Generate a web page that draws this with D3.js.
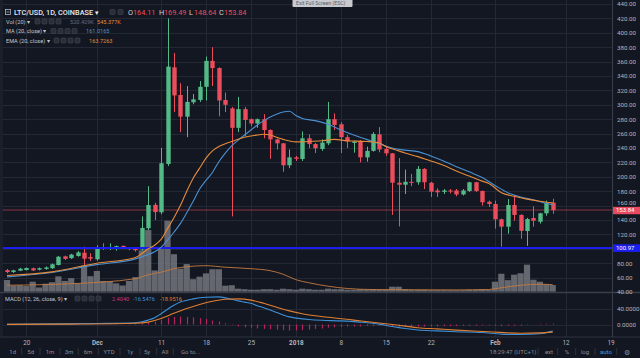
<!DOCTYPE html>
<html><head><meta charset="utf-8">
<script src="https://cdn.jsdelivr.net/npm/d3@7"></script>
<style>html,body{margin:0;padding:0;background:#131722;overflow:hidden}text{font-family:Roboto,"Liberation Sans",Arial,sans-serif}</style>
</head><body><svg id="c" width="640" height="358"></svg>
<script>
// ---- data (LTC/USD 1D Coinbase, 17 Nov 2017 .. 10 Feb 2018) ----
const startDate = new Date(2017, 10, 17);
const open = [70.4,67.7,69.6,70.5,73,71,72,73,77.5,89.5,
87,90,94.6,88.5,85.4,101.5,100.8,102,104,101,
100,99,128.5,161,150.7,217.8,352,313.6,283.5,303.5,
306.7,325,361,351,306.7,295,268,294,280,274,
280,265,252,246.5,216,227,224.7,253.5,245.5,238.6,
246.5,280,273,255,247,249.7,227,236,259,238.6,
232.6,191.8,189,193,192.4,211,191.8,181,179,181,
181,175.5,180.3,192.4,180.3,165.4,162.2,141,130.7,160.8,
147,124.7,142.8,137.6,149.3,164.11];
const high = [72,71,73.5,74,74,74,75.5,79.5,90,90.5,
93,97,103,94,105,107.6,107.6,104.5,104.5,102,
100.5,145,187,164,240,420,372,330,326,315,
333,367,380,352,317,297,311,297,281,281,
287,266,253,247,238,229,263,259,247,252,
304,288,276,258,250,251,242,262,269,242,
233,226,210,204,215,212,193,184,183,183,
183,183,193,193,181,167,167,142,169,174.7,
148,143,159,150,167,169.49];
const low = [66,66.5,69,70,69,70,71,72,77,84.5,
86,89,77.5,83,83.5,98.3,98.3,97.4,101,98,
96,97.5,126,140,148,215,290,262,255,300.7,
304,306,326,284,290,145,262,256,270,268,
253.5,225,238,207,212,222,222,239.6,233,236,
244,265,233,240,233.5,220,221,235,234,229,
147,131,176,187,189,183,172,172,176,177,
173,174,179,179,160,158,128,103,121,139,
114,104,130.7,135,146,148.64];
const close = [67.7,70,72.4,73.3,70,73,74,78.5,89,86,
92,95,86.3,86.3,102,100.5,101.5,103.7,102,99.5,
98,129,160.8,151,218.8,353,313,283.5,304,307.6,
325,361,351,306,300,268,294,279,274,280,
265,252,246.5,216,227,225,253.5,245.5,239.6,247.5,
280,272,255,249,249,227,236,259.5,238,232.6,
191.8,189,193,192,211,192.4,179.3,178.5,181,179.5,
175.5,181,192.4,180.3,164.6,162.2,141,130.7,160.8,147,
125,141.4,139,149.3,164,153.84];
const volumeK = [910,485,505,445,780,330,625,740,1195,840,
1055,650,2045,1210,1620,840,820,650,485,840,
1140,3220,4810,1660,3380,5540,2925,1795,2160,975,
1170,1430,1755,1755,470,505,235,195,155,155,
195,195,155,235,195,155,235,195,155,155,
235,195,195,155,155,195,155,195,155,155,
390,390,195,155,155,155,120,120,120,120,
120,120,155,155,195,155,780,1400,900,1330,
1440,2110,935,780,585,520.429];
const macdHist = [0.3,0.3,0.3,0.3,0.3,0.3,0.3,0.3,0.3,0.3,
0.8,0.8,0.8,0.8,0.8,0.8,0.8,0.8,0.8,0.8,
1.5,3,5,7,11,17,19,20,19,18,
16,14,10,7.5,3,-1,-5,-7,-8,-10,
-11,-12,-13,-14,-15,-15,-14,-13,-11,-10,
-8,-7,-6,-5,-5,-5,-4,-4,-3,-3,
-5,-6,-6,-6,-5,-5,-5,-5,-4,-4,
-4,-3,-3,-3,-2,-2,-3,-4,-3,-3,
-3,-1,0.5,1.5,2,2.404];
// line samples: [candle index, value]
const maLine = [[0,61],[7,67],[14,78],[20,86],[22,92],[23,96],[24,102],[25,112],[26,123],[27,135],[28,150],[29,166],[30,183],[31,195],[32,206],[33,221],[34,233],[35,243],[36,251],[37,258],[38,265],[39,272],[40,278],[41,283],[42,287],[43,290],[44,291],[45,285],[46,281],[48,278],[50,273],[52,265],[54,258],[56,252],[58,246],[60,240],[62,237],[64,235],[66,229],[68,222],[70,214],[72,207],[74,199],[76,188],[78,178],[80,172],[82,168],[84,163],[85,161.0165]];
const emaLine = [[0,63],[7,68],[14,80],[20,88],[22,100],[23,105],[24,113],[25,128],[26,143],[27,160],[28,180],[29,198],[30,212],[31,226],[32,236],[33,242],[34,246],[35,249],[37,255],[39,258],[40,259],[41,258],[42,255],[43,252],[45,248.5],[47,249],[49,250],[51,252],[53,250],[56,249],[58,247],[59,242],[61,236],[62,233],[64,228],[66,222],[68,216],[70,208],[72,201],[74,194],[75,191],[77,178],[79,173],[81,169],[83,166],[85,163.7263]];
const volMaLine = [[0,505],[10,625],[20,1015],[22,1325],[24,1520],[26,1795],[28,1950],[31,2030],[34,1910],[38,1795],[41,1640],[43,1365],[45,935],[47,700],[50,430],[53,250],[57,170],[70,140],[75,170],[77,310],[80,505],[83,585],[85,545.377]];
const macdLine = [[0,0.5],[8,1.5],[14,2.5],[20,4],[21,7],[22,11],[23,17],[24,27],[25,38],[26,48],[27,56],[29,64],[31,68],[33,69],[35,63],[36,59],[37,56],[38,53],[39,47],[40,42],[41,36],[42,30],[43,24],[44,19],[45,16],[46,14],[47,12.5],[49,10.5],[52,9],[55,6],[58,1],[60,-5],[62,-10],[64,-13.7],[67,-16],[70,-18],[74,-20],[77,-24],[80,-25],[83,-23],[85,-16.5476]];
const signalLine = [[0,0.3],[10,1],[20,3],[22,6],[24,15],[26,28],[28,40],[30,50],[32,58],[34,63],[36,64],[38,61],[40,53],[42,43],[44,34],[46,27],[48,22],[50,18],[54,11],[59,2],[62,-4],[64,-8],[67,-11],[70,-14],[75,-18],[80,-22],[83,-21],[85,-18.9516]];
const priceTicks = d3.range(40, 441, 20);
const hiddenPriceLabels = [100];   // covered by the 100.97 tag in the reference
const macdTicks = [40, 0];
const timeTickDates = [new Date(2017,10,20),new Date(2017,11,1),new Date(2017,11,11),new Date(2017,11,18),new Date(2017,11,25),new Date(2018,0,1),new Date(2018,0,8),new Date(2018,0,15),new Date(2018,0,22),new Date(2018,1,1),new Date(2018,1,12),new Date(2018,1,19)];
const timeTickLabels = ["20","Dec","11","18","25","2018","8","15","22","Feb","12","19"];
const boldTicks = ["Dec","2018","Feb"];
const lastPrice = 153.84, hLine = 100.97;

// ---- drawing ----
const svg = d3.select("#c");
const W = 640, H = 358, paneR = 612;
const BG = "#131722", GRID = "#242835", AX = "#b2b5be";
const UP = "#53b987", DN = "#eb4d5c", BLUE = "#4a90d0", ORANGE = "#e58a3a";
const dates = open.map((d, i) => d3.timeDay.offset(startDate, i));
const x = d3.scaleTime().domain([dates[0], dates[dates.length - 1]]).range([7, 552.7]);
const y = d3.scaleLinear().domain([0, 440]).range([320.8, 4]);
const vy = d3.scaleLinear().domain([0, 5540]).range([291.7, 220.7]);
const my = d3.scaleLinear().domain([-40, 40]).range([340.5, 308.5]);
const xi = i => x(dates[i]);

svg.append("rect").attr("width", W).attr("height", H).attr("fill", BG);
svg.append("rect").attr("x", 0).attr("y", 0).attr("width", 3).attr("height", 337).attr("fill", "#1b1f2b");
const defs = svg.append("defs");
defs.append("clipPath").attr("id", "mainClip").append("rect").attr("x", 3).attr("y", 0).attr("width", paneR - 3).attr("height", 292);
defs.append("clipPath").attr("id", "macdClip").append("rect").attr("x", 3).attr("y", 294).attr("width", paneR - 3).attr("height", 42);

// grids
const grid = svg.append("g");
timeTickDates.forEach(d => { const gx = Math.round(x(d)) + 0.5; if (gx < paneR - 2) grid.append("line").attr("x1", gx).attr("x2", gx).attr("y1", 0).attr("y2", 337).attr("stroke", GRID).attr("stroke-width", 1); });
priceTicks.forEach(p => grid.append("line").attr("x1", 3).attr("x2", paneR).attr("y1", Math.round(y(p)) + 0.5).attr("y2", Math.round(y(p)) + 0.5).attr("stroke", GRID));
macdTicks.forEach(p => grid.append("line").attr("x1", 3).attr("x2", paneR).attr("y1", Math.round(my(p)) + 0.5).attr("y2", Math.round(my(p)) + 0.5).attr("stroke", GRID));

// main pane
const main = svg.append("g").attr("clip-path", "url(#mainClip)");
main.selectAll(".vol").data(volumeK).join("rect")
  .attr("x", (d, i) => xi(i) - 3.1).attr("width", 6.2)
  .attr("y", d => vy(d)).attr("height", d => vy(0) - vy(d))
  .attr("fill", "#74767d").attr("opacity", 0.85);
const lineIdx = (sc) => d3.line().x(d => xi(d[0])).y(d => sc(d[1])).curve(d3.curveMonotoneX);
main.append("path").attr("d", lineIdx(vy)(volMaLine)).attr("fill", "none").attr("stroke", "#c47a3e").attr("stroke-width", 1).attr("opacity", 0.9);
main.append("line").attr("x1", 0).attr("x2", paneR).attr("y1", y(lastPrice)).attr("y2", y(lastPrice)).attr("stroke", "#8c3442").attr("stroke-width", 1);
const cg = main.append("g");
open.forEach((o, i) => {
  const c = close[i], col = c >= o ? UP : DN, cx = Math.round(xi(i));
  cg.append("line").attr("x1", cx + 0.5).attr("x2", cx + 0.5).attr("y1", y(high[i])).attr("y2", y(low[i])).attr("stroke", col).attr("stroke-width", 1);
  const top = y(Math.max(o, c)), bot = y(Math.min(o, c));
  cg.append("rect").attr("x", cx - 1.7).attr("width", 4.4).attr("y", top).attr("height", Math.max(1, bot - top)).attr("fill", col);
});
main.append("line").attr("x1", 0).attr("x2", paneR).attr("y1", y(hLine)).attr("y2", y(hLine)).attr("stroke", "#1a1ff0").attr("stroke-width", 2);
main.append("path").attr("d", lineIdx(y)(maLine)).attr("fill", "none").attr("stroke", BLUE).attr("stroke-width", 1.1);
main.append("path").attr("d", lineIdx(y)(emaLine)).attr("fill", "none").attr("stroke", ORANGE).attr("stroke-width", 1.1);

// macd pane
const mp = svg.append("g").attr("clip-path", "url(#macdClip)");
mp.selectAll(".h").data(macdHist).join("line")
  .attr("x1", (d, i) => Math.round(xi(i)) + 0.5).attr("x2", (d, i) => Math.round(xi(i)) + 0.5)
  .attr("y1", my(0)).attr("y2", d => my(d)).attr("stroke", "#b3245a").attr("stroke-width", 1.2);
mp.append("path").attr("d", lineIdx(my)(macdLine)).attr("fill", "none").attr("stroke", "#3d8fd6").attr("stroke-width", 1.1);
mp.append("path").attr("d", lineIdx(my)(signalLine)).attr("fill", "none").attr("stroke", "#e07f32").attr("stroke-width", 1.1);

// separators
svg.append("line").attr("x1", 0).attr("x2", W).attr("y1", 292.5).attr("y2", 292.5).attr("stroke", "#3a3e4a").attr("stroke-width", 1.5);
svg.append("line").attr("x1", 0).attr("x2", W).attr("y1", 337).attr("y2", 337).attr("stroke", "#2e323e");
svg.append("line").attr("x1", paneR + 0.5).attr("x2", paneR + 0.5).attr("y1", 0).attr("y2", 337).attr("stroke", "#3a3e4a");

// price axis
const pa = svg.append("g").attr("transform", `translate(${paneR + 3},0)`)
  .call(d3.axisRight(y).tickValues(priceTicks.filter(p => !hiddenPriceLabels.includes(p))).tickFormat(d3.format(".2f")).tickSize(0));
pa.select(".domain").remove();
pa.selectAll("text").attr("fill", AX).attr("font-size", 6.2).attr("x", 2)
  .attr("dy", d => d === 160 ? "-0.15em" : "0.32em");
const ma = svg.append("g").attr("transform", `translate(${paneR + 3},0)`)
  .call(d3.axisRight(my).tickValues(macdTicks).tickFormat(d3.format(".4f")).tickSize(0));
ma.select(".domain").remove();
ma.selectAll("text").attr("fill", AX).attr("font-size", 6.2).attr("x", 2);
svg.append("rect").attr("x", paneR + 1).attr("y", y(lastPrice) - 3.2).attr("width", 27).attr("height", 7.4).attr("fill", "#e84a5f");
svg.append("text").attr("x", paneR + 4).attr("y", y(lastPrice) + 2.2).attr("font-size", 6).attr("fill", "#fff").text(d3.format(".2f")(lastPrice));
svg.append("rect").attr("x", paneR + 1).attr("y", y(hLine) - 3.8).attr("width", 27).attr("height", 7.6).attr("fill", "#1a1ff0");
svg.append("text").attr("x", paneR + 4).attr("y", y(hLine) + 2.2).attr("font-size", 6).attr("fill", "#fff").text(d3.format(".2f")(hLine));

// time axis
const ta = svg.append("g").attr("transform", "translate(0,339)")
  .call(d3.axisBottom(x).tickValues(timeTickDates).tickFormat((d, i) => timeTickLabels[i]).tickSize(0));
ta.select(".domain").remove();
ta.selectAll("text").attr("fill", AX).attr("font-size", 6.4).attr("dy", "0.5em")
  .attr("font-weight", (d, i) => boldTicks.includes(timeTickLabels[i]) ? "bold" : "normal");

// header & legends
const T = (tx, ty, s, size, fill, extra) => { const t = svg.append("text").attr("x", tx).attr("y", ty).attr("font-size", size).attr("fill", fill).text(s); if (extra) extra(t); return t; };
const icon = (ix, iy) => svg.append("rect").attr("x", ix).attr("y", iy).attr("width", 5).attr("height", 5).attr("rx", 1).attr("fill", "#2a2e39").attr("stroke", "#434651").attr("stroke-width", 0.6);
svg.append("rect").attr("x", 5.5).attr("y", 9.5).attr("width", 5).attr("height", 5).attr("fill", "none").attr("stroke", "#b2b5be").attr("stroke-width", 0.8);
svg.append("line").attr("x1", 6.5).attr("x2", 9.5).attr("y1", 12).attr("y2", 12).attr("stroke", "#b2b5be").attr("stroke-width", 0.8);
T(14, 15.2, "LTC/USD, 1D, COINBASE ▾", 7.3, "#e6e8ee", t => t.attr("font-weight", 500));
icon(110, 9.5); icon(118, 9.5);
const ohlc = [["O", 128, "164.11"], ["H", 159, "169.49"], ["L", 189, "148.64"], ["C", 219, "153.84"]];
ohlc.forEach(([k, px, v]) => { T(px, 15.2, k, 7.3, "#d1d4dc"); T(px + 5, 15.2, v, 7.3, "#eb4d5c"); });
const LF = 5.6;
T(6, 23.5, "Vol (20) ▾", LF, "#c3c6ce");
[35, 42, 49, 56].forEach(ix => icon(ix, 19));
T(70, 23.5, "520.429K", LF, "#6a6d78");
T(97, 23.5, "545.377K", LF, ORANGE);
T(6, 33, "MA (20, close) ▾", LF, "#c3c6ce");
[51, 58, 65, 72].forEach(ix => icon(ix, 28.5));
T(86, 33, "161.0165", LF, BLUE);
T(6, 42.5, "EMA (20, close) ▾", LF, "#c3c6ce");
[54, 61, 68, 75].forEach(ix => icon(ix, 38));
T(89, 42.5, "163.7263", LF, ORANGE);
T(5, 300.5, "MACD (12, 26, close, 9) ▾", LF, "#c3c6ce");
[75, 82, 89, 96].forEach(ix => icon(ix, 296));
T(112, 300.5, "2.4040", LF, "#d0336a");
T(133, 300.5, "-16.5476", LF, "#3d8fd6");
T(160, 300.5, "-18.9516", LF, "#e07f32");

// exit full screen tooltip
svg.append("rect").attr("x", 292.5).attr("y", -2).attr("width", 60).attr("height", 9).attr("rx", 1).attr("fill", "#c8cacf");
T(296, 5, "Exit Full Screen (ESC)", 5.2, "#5d6068");

// bottom toolbar
const tb = [["1d", 12.7], ["5d", 30.7], ["1m", 50], ["3m", 69], ["6m", 88], ["YTD", 109], ["1y", 130], ["5y", 147], ["All", 165]];
tb.forEach(([s, cx]) => T(cx, 354, s, 6, "#8a8d97", t => t.attr("text-anchor", "middle")));
T(181, 354, "Go to...", 6, "#8a8d97");
[21.7, 40, 60, 78.3, 98.3, 120, 140, 156.7, 173.3, 538, 557.7, 575.7, 595, 616.7].forEach(sx =>
  svg.append("line").attr("x1", sx).attr("x2", sx).attr("y1", 348).attr("y2", 355).attr("stroke", "#2e323e"));
T(513, 354, "18:29:47 (UTC+1)", 6, "#8a8d97", t => t.attr("text-anchor", "middle"));
T(549, 354, "ext", 6, "#8a8d97", t => t.attr("text-anchor", "middle"));
T(567, 354, "%", 6, "#8a8d97", t => t.attr("text-anchor", "middle"));
T(585, 354, "log", 6, "#8a8d97", t => t.attr("text-anchor", "middle"));
T(606, 354, "auto", 6, "#2e9cf0", t => t.attr("text-anchor", "middle"));
T(627, 354.5, "⚙", 7, "#8a8d97", t => t.attr("text-anchor", "middle"));
</script></body></html>
